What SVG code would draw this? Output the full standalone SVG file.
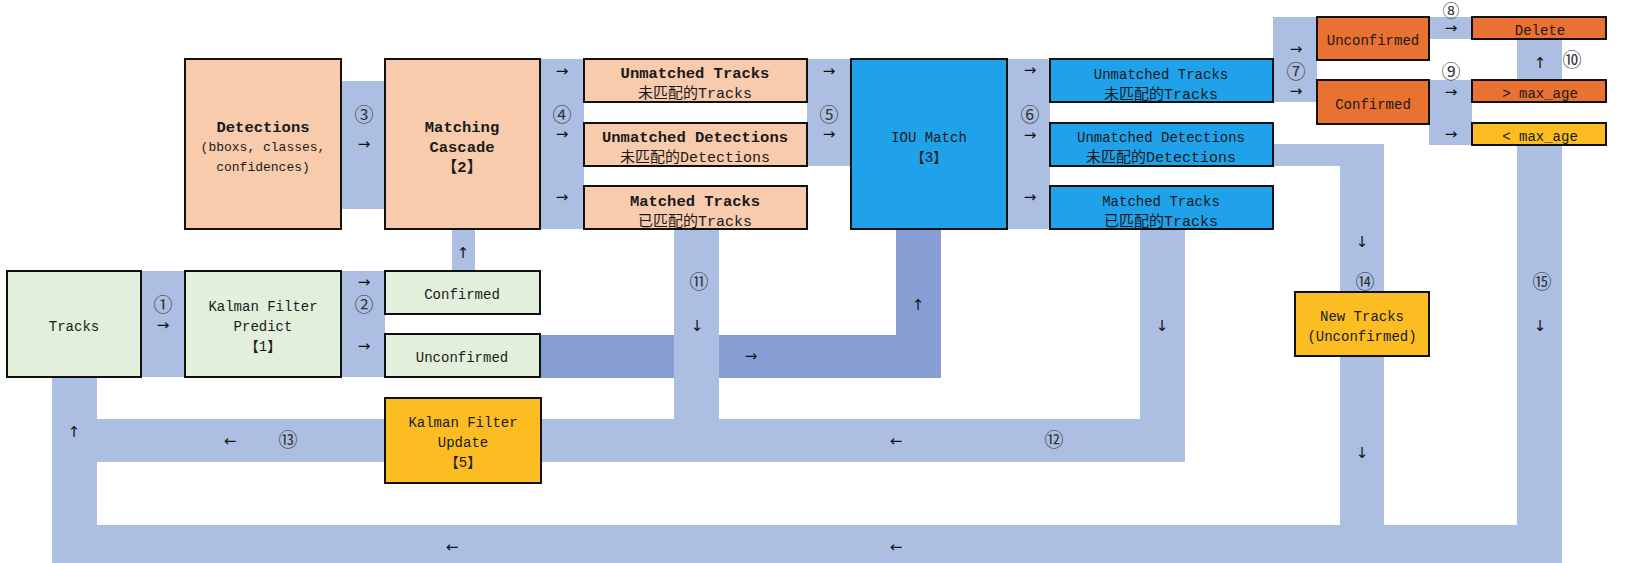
<svg xmlns="http://www.w3.org/2000/svg" width="1634" height="563" viewBox="0 0 1634 563">
<style>
.bg{fill:#ffffff}
.band{fill:#ACBEE2}
.dark{fill:#879ED5}
.box{stroke:#111;stroke-width:2}
.peach{fill:#F8CBAD}
.green{fill:#E2EFDA}
.blue{fill:#1FA2E9}
.orange{fill:#E97132}
.yellow{fill:#FBBD22}
.t{font-family:"Liberation Mono","Noto Sans CJK SC",monospace;font-size:14px;fill:#1a1a1a;text-anchor:middle}
.b{font-weight:bold;font-size:15.5px}
.s{font-size:13px}
.c{font-size:15px}
.num{font-family:"Noto Sans CJK SC",sans-serif;font-size:19px;fill:#333;text-anchor:middle}
.arr{font-family:"DejaVu Sans",sans-serif;font-size:15px;fill:#111;text-anchor:middle}
</style>
<rect class="bg" x="0" y="0" width="1634" height="563"/>
<g id="connectors">
  <rect class="band" x="52" y="377" width="45" height="186"/>
  <rect class="band" x="52" y="525" width="1510" height="38"/>
  <rect class="band" x="1517" y="144" width="45" height="419"/>
  <rect class="band" x="1340" y="144" width="44" height="381"/>
  <rect class="band" x="1273" y="144" width="111" height="22"/>
  <rect class="band" x="141" y="271" width="44" height="106"/>
  <rect class="band" x="341" y="271" width="44" height="106"/>
  <rect class="band" x="452" y="229" width="23" height="42"/>
  <rect class="band" x="341" y="81" width="44" height="128"/>
  <rect class="band" x="540" y="59" width="44" height="170"/>
  <rect class="band" x="807" y="59" width="44" height="107"/>
  <rect class="band" x="1007" y="59" width="43" height="170"/>
  <rect class="band" x="1273" y="17" width="44" height="85"/>
  <rect class="band" x="1429" y="17" width="43" height="22"/>
  <rect class="band" x="1429" y="80" width="43" height="65"/>
  <rect class="band" x="1517" y="39" width="45" height="41"/>
  <rect class="dark" x="540" y="335" width="401" height="43"/>
  <rect class="dark" x="896" y="229" width="45" height="149"/>
  <rect class="band" x="674" y="229" width="45" height="191"/>
  <rect class="band" x="541" y="419" width="644" height="43"/>
  <rect class="band" x="1140" y="229" width="45" height="233"/>
  <rect class="band" x="97" y="419" width="288" height="43"/>

  <text class="num" x="163" y="312">①</text>
  <text class="arr" x="163" y="330">→</text>
  <text class="num" x="364" y="312">②</text>
  <text class="arr" x="364" y="287">→</text>
  <text class="arr" x="364" y="351">→</text>
  <text class="arr" x="463" y="258">↑</text>
  <text class="num" x="364" y="122">③</text>
  <text class="arr" x="364" y="149">→</text>
  <text class="num" x="562" y="122">④</text>
  <text class="arr" x="562" y="76">→</text>
  <text class="arr" x="562" y="139">→</text>
  <text class="arr" x="562" y="202">→</text>
  <text class="num" x="829" y="122">⑤</text>
  <text class="arr" x="829" y="76">→</text>
  <text class="arr" x="829" y="139">→</text>
  <text class="num" x="1030" y="122">⑥</text>
  <text class="arr" x="1030" y="75">→</text>
  <text class="arr" x="1030" y="140">→</text>
  <text class="arr" x="1030" y="202">→</text>
  <text class="num" x="1296" y="79">⑦</text>
  <text class="arr" x="1296" y="54">→</text>
  <text class="arr" x="1296" y="96">→</text>
  <text class="num" x="1451" y="17" style="font-size:17px">⑧</text>
  <text class="arr" x="1451" y="33">→</text>
  <text class="num" x="1451" y="79">⑨</text>
  <text class="arr" x="1451" y="97">→</text>
  <text class="arr" x="1451" y="139">→</text>
  <text class="num" x="1572" y="67">⑩</text>
  <text class="arr" x="1540" y="68">↑</text>
  <text class="num" x="699" y="289">⑪</text>
  <text class="arr" x="697" y="331">↓</text>
  <text class="arr" x="751" y="361">→</text>
  <text class="arr" x="918" y="310">↑</text>
  <text class="num" x="1054" y="447">⑫</text>
  <text class="arr" x="896" y="446">←</text>
  <text class="arr" x="1162" y="331">↓</text>
  <text class="num" x="288" y="447">⑬</text>
  <text class="arr" x="230" y="446">←</text>
  <text class="arr" x="74" y="437">↑</text>
  <text class="arr" x="452" y="552">←</text>
  <text class="arr" x="896" y="552">←</text>
  <text class="num" x="1365" y="289">⑭</text>
  <text class="arr" x="1362" y="247">↓</text>
  <text class="arr" x="1362" y="458">↓</text>
  <text class="num" x="1542" y="289">⑮</text>
  <text class="arr" x="1540" y="331">↓</text>
</g>

<g id="tracks">
  <rect class="box green" x="7" y="271" width="134" height="106"/>
  <text class="t" x="74" y="331">Tracks</text>
</g>
<g id="kf-predict">
  <rect class="box green" x="185" y="271" width="156" height="106"/>
  <text class="t" x="263" y="311">Kalman Filter</text>
  <text class="t" x="263" y="331">Predict</text>
  <text class="t" x="263" y="351">【1】</text>
</g>
<g id="confirmed-1">
  <rect class="box green" x="385" y="271" width="155" height="43"/>
  <text class="t" x="462" y="299">Confirmed</text>
</g>
<g id="unconfirmed-1">
  <rect class="box green" x="385" y="334" width="155" height="43"/>
  <text class="t" x="462" y="362">Unconfirmed</text>
</g>
<g id="detections">
  <rect class="box peach" x="185" y="59" width="156" height="170"/>
  <text class="t b" x="263" y="132">Detections</text>
  <text class="t s" x="263" y="151">(bboxs, classes,</text>
  <text class="t s" x="263" y="171">confidences)</text>
</g>
<g id="matching-cascade">
  <rect class="box peach" x="385" y="59" width="155" height="170"/>
  <text class="t b" x="462" y="132">Matching</text>
  <text class="t b" x="462" y="152">Cascade</text>
  <text class="t b" x="462" y="172">【2】</text>
</g>
<g id="unmatched-tracks-1">
  <rect class="box peach" x="584" y="59" width="223" height="43"/>
  <text class="t b" x="695" y="78">Unmatched Tracks</text>
  <text class="t c" x="695" y="98">未匹配的Tracks</text>
</g>
<g id="unmatched-detections-1">
  <rect class="box peach" x="584" y="123" width="223" height="43"/>
  <text class="t b" x="695" y="142">Unmatched Detections</text>
  <text class="t c" x="695" y="162">未匹配的Detections</text>
</g>
<g id="matched-tracks-1">
  <rect class="box peach" x="584" y="186" width="223" height="43"/>
  <text class="t b" x="695" y="206">Matched Tracks</text>
  <text class="t c" x="695" y="226">已匹配的Tracks</text>
</g>
<g id="iou-match">
  <rect class="box blue" x="851" y="59" width="156" height="170"/>
  <text class="t" x="929" y="142">IOU Match</text>
  <text class="t" x="929" y="162">【3】</text>
</g>
<g id="unmatched-tracks-2">
  <rect class="box blue" x="1050" y="59" width="223" height="43"/>
  <text class="t" x="1161" y="79">Unmatched Tracks</text>
  <text class="t c" x="1161" y="99">未匹配的Tracks</text>
</g>
<g id="unmatched-detections-2">
  <rect class="box blue" x="1050" y="123" width="223" height="43"/>
  <text class="t" x="1161" y="142">Unmatched Detections</text>
  <text class="t c" x="1161" y="162">未匹配的Detections</text>
</g>
<g id="matched-tracks-2">
  <rect class="box blue" x="1050" y="186" width="223" height="43"/>
  <text class="t" x="1161" y="206">Matched Tracks</text>
  <text class="t c" x="1161" y="226">已匹配的Tracks</text>
</g>
<g id="unconfirmed-2">
  <rect class="box orange" x="1317" y="17" width="112" height="43"/>
  <text class="t" x="1373" y="45">Unconfirmed</text>
</g>
<g id="confirmed-2">
  <rect class="box orange" x="1317" y="80" width="112" height="44"/>
  <text class="t" x="1373" y="109">Confirmed</text>
</g>
<g id="delete">
  <rect class="box orange" x="1472" y="17" width="134" height="22"/>
  <text class="t" x="1540" y="35">Delete</text>
</g>
<g id="gt-max-age">
  <rect class="box orange" x="1472" y="80" width="134" height="22"/>
  <text class="t" x="1540" y="98">&gt; max_age</text>
</g>
<g id="lt-max-age">
  <rect class="box yellow" x="1472" y="123" width="134" height="22"/>
  <text class="t" x="1540" y="141">&lt; max_age</text>
</g>
<g id="new-tracks">
  <rect class="box yellow" x="1295" y="292" width="134" height="64"/>
  <text class="t" x="1362" y="321">New Tracks</text>
  <text class="t" x="1362" y="341">(Unconfirmed)</text>
</g>
<g id="kf-update">
  <rect class="box yellow" x="385" y="398" width="156" height="85"/>
  <text class="t" x="463" y="427">Kalman Filter</text>
  <text class="t" x="463" y="447">Update</text>
  <text class="t" x="463" y="467">【5】</text>
</g>
</svg>
